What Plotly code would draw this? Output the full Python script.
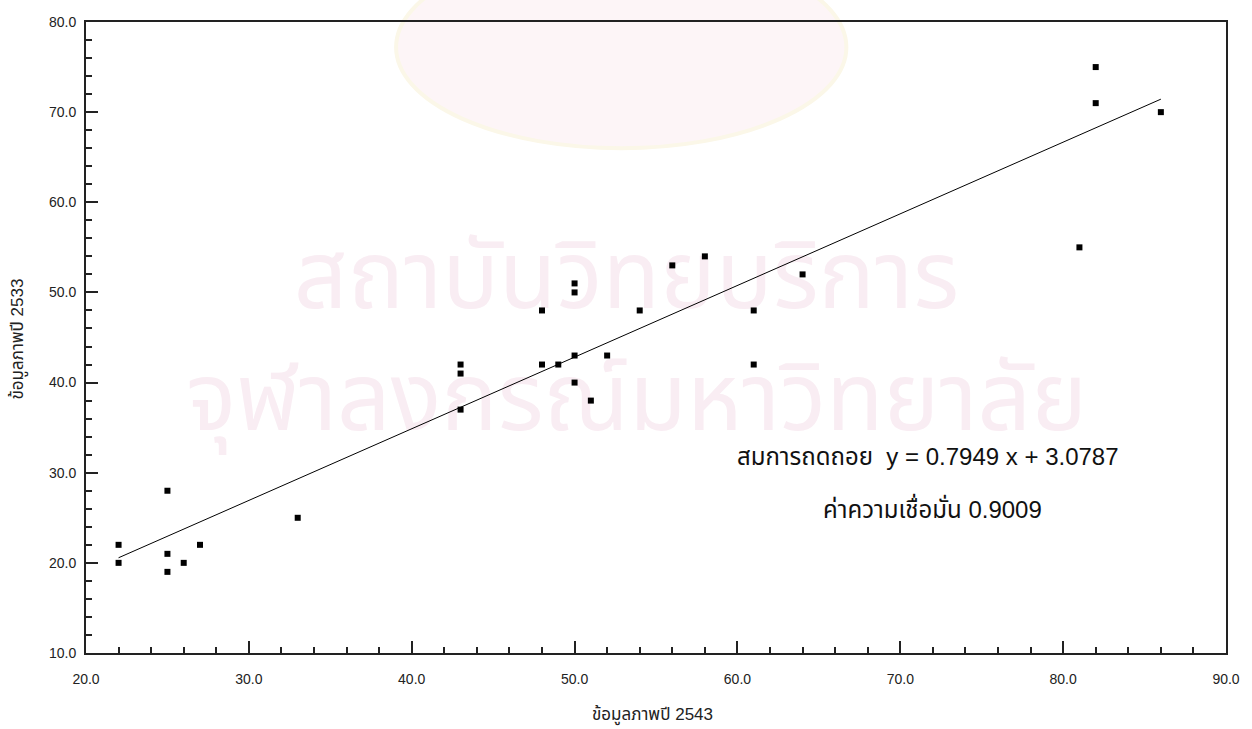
import plotly.graph_objects as go

# ---- data ----
x_2543 = [22, 22, 25, 25, 25, 26, 27, 33, 43, 43, 43, 48, 48, 49, 50, 50, 50, 50,
          51, 52, 54, 56, 58, 61, 61, 64, 81, 82, 82, 86]
y_2533 = [22, 20, 28, 21, 19, 20, 22, 25, 42, 41, 37, 48, 42, 42, 51, 50, 43, 40,
          38, 43, 48, 53, 54, 48, 42, 52, 55, 75, 71, 70]
slope = 0.7949
intercept = 3.0787
r_value = 0.9009

x_title = "ข้อมูลภาพปี 2543"
y_title = "ข้อมูลภาพปี 2533"
eq_text = f"สมการถดถอย  y = {slope} x + {intercept}"
r_text = f"ค่าความเชื่อมั่น {r_value}"
wm_line1 = "สถาบันวิทยบริการ"
wm_line2 = "จุฬาลงกรณ์มหาวิทยาลัย"

line_x = [min(x_2543), max(x_2543)]
line_y = [slope * v + intercept for v in line_x]

FONT = "Liberation Sans, Arial, Noto Sans Thai, Loma, Garuda, sans-serif"
AX = "#222222"

fig = go.Figure()
fig.add_trace(go.Scatter(x=line_x, y=line_y, mode="lines",
                         line=dict(color="black", width=1), showlegend=False,
                         hoverinfo="skip"))
fig.add_trace(go.Scatter(x=x_2543, y=y_2533, mode="markers",
                         marker=dict(symbol="square", size=6, color="black"),
                         showlegend=False))

axis_common = dict(
    showgrid=False, zeroline=False, showline=True, mirror=True,
    linecolor=AX, linewidth=2,
    ticks="inside", ticklen=12, tickwidth=2, tickcolor=AX,
    dtick=10, tickformat=".1f",
    tickfont=dict(family=FONT, size=14, color=AX),
    minor=dict(ticks="inside", ticklen=6, tickwidth=2, tickcolor=AX, dtick=2),
)

fig.update_xaxes(range=[20, 90], tick0=20, ticklabelstandoff=12, **axis_common)
fig.update_yaxes(range=[10, 80], tick0=10, ticklabelstandoff=5, **axis_common)

# watermark decorations (drawn below the data)
fig.add_shape(type="circle", xref="paper", yref="paper", layer="below",
              x0=0.272, x1=0.667, y0=0.80, y1=1.12,
              fillcolor="rgb(253,245,247)", line=dict(color="rgb(251,247,232)", width=4))

wm = [(wm_line1, 0.474, 0.612), (wm_line2, 0.483, 0.415)]
for text, px, py in wm:
    fig.add_shape(type="rect", xref="paper", yref="paper", layer="below",
                  x0=px - 0.2, x1=px + 0.2, y0=py - 0.05, y1=py + 0.05,
                  line=dict(width=0), fillcolor="rgba(0,0,0,0)",
                  label=dict(text=text, textposition="middle center", padding=0,
                             font=dict(family=FONT, size=94, color="rgb(249,237,243)")))

fig.add_annotation(xref="paper", yref="paper", x=0.739, y=0.311, showarrow=False,
                   xanchor="center", yanchor="middle",
                   text=eq_text, font=dict(family=FONT, size=24, color="#111111"))
fig.add_annotation(xref="paper", yref="paper", x=0.7426, y=0.230, showarrow=False,
                   xanchor="center", yanchor="middle",
                   text=r_text, font=dict(family=FONT, size=24, color="#111111"))

# axis titles
fig.add_annotation(xref="paper", yref="paper", x=0.497, y=-0.098, showarrow=False,
                   xanchor="center", yanchor="middle",
                   text=x_title, font=dict(family=FONT, size=17, color=AX))
fig.add_annotation(xref="paper", yref="paper", x=-0.0595, y=0.497, showarrow=False,
                   xanchor="center", yanchor="middle", textangle=-90,
                   text=y_title, font=dict(family=FONT, size=17, color=AX))

fig.update_layout(
    width=1252, height=729,
    margin=dict(l=86, r=24, t=22, b=76),
    plot_bgcolor="white", paper_bgcolor="white",
    font=dict(family=FONT),
)

fig.write_html("out.html")
